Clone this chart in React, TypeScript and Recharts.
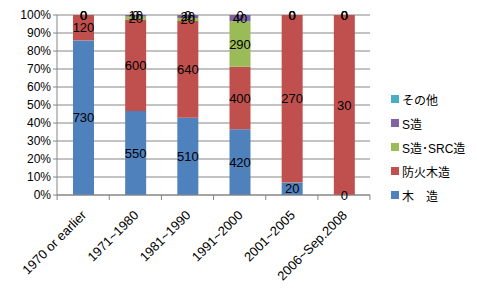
import { BarChart, Bar, XAxis, YAxis, CartesianGrid, LabelList } from 'recharts'

const periods = ['1970 or earlier', '1971~1980', '1981~1990', '1991~2000', '2001~2005', '2006~Sep.2008']
const wood = [730, 550, 510, 420, 20, 0]
const fireproofWood = [120, 600, 640, 400, 270, 30]
const steelSrc = [0, 20, 20, 290, 0, 0]
const steel = [0, 10, 20, 40, 0, 0]
const other = [0, 0, 0, 0, 0, 0]
const yTicks = [0, 0.1, 0.2, 0.3, 0.4, 0.5, 0.6, 0.7, 0.8, 0.9, 1]

const seriesList = [
  { key: 'wood', name: '木　造', color: '#4F81BD' },
  { key: 'fireproofWood', name: '防火木造', color: '#C0504D' },
  { key: 'steelSrc', name: 'S造･SRC造', color: '#9BBB59' },
  { key: 'steel', name: 'S造', color: '#8064A2' },
  { key: 'other', name: 'その他', color: '#4BACC6' },
]

const data = periods.map((period, i) => ({
  period,
  wood: wood[i],
  fireproofWood: fireproofWood[i],
  steelSrc: steelSrc[i],
  steel: steel[i],
  other: other[i],
}))

const FONT = '"Liberation Sans", "Noto Sans CJK JP", sans-serif'
const BAND = 52

function PeriodTick(props: any) {
  const { x, y, payload, index } = props
  const ax = x + 4
  const ay = y + 13
  return (
    <g>
      <line x1={x - BAND / 2} y1={y - 8} x2={x - BAND / 2} y2={y - 3} stroke="#868686" />
      {index === periods.length - 1 && (
        <line x1={x + BAND / 2} y1={y - 8} x2={x + BAND / 2} y2={y - 3} stroke="#868686" />
      )}
      <text
        x={ax}
        y={ay}
        transform={`rotate(-45, ${ax}, ${ay})`}
        textAnchor="end"
        fontSize={13}
        fontFamily={FONT}
        fill="#000"
      >
        {payload.value}
      </text>
    </g>
  )
}

function SideLegend() {
  const items = [...seriesList].reverse()
  return (
    <div
      style={{
        position: 'absolute',
        left: 391,
        top: 87,
        fontFamily: FONT,
        fontSize: 12,
        color: '#000',
      }}
    >
      {items.map((s) => (
        <div key={s.key} style={{ display: 'flex', alignItems: 'center', height: 24 }}>
          <span style={{ width: 8, height: 8, background: s.color, marginRight: 3 }} />
          <span>{s.name}</span>
        </div>
      ))}
    </div>
  )
}

export default function App() {
  return (
    <div style={{ position: 'fixed', left: 0, top: 0, width: 477, height: 294, background: '#fff' }}>
      <BarChart
        width={477}
        height={294}
        data={data}
        stackOffset="expand"
        barSize={21}
        margin={{ top: 15, right: 107, left: 0, bottom: 0 }}
      >
        <CartesianGrid horizontal vertical={false} stroke="#868686" />
        <XAxis
          dataKey="period"
          height={99}
          interval={0}
          tickLine={false}
          axisLine={{ stroke: '#868686' }}
          tick={<PeriodTick />}
        />
        <YAxis
          width={57}
          domain={[0, 1]}
          ticks={yTicks}
          interval={0}
          tickFormatter={(v: number) => `${Math.round(v * 100)}%`}
          tick={{ fontSize: 12, fill: '#000', fontFamily: FONT }}
          tickLine={{ stroke: '#868686' }}
          tickSize={4}
          axisLine={{ stroke: '#868686' }}
        />
        {seriesList.map((s) => (
          <Bar
            key={s.key}
            dataKey={s.key}
            name={s.name}
            stackId="a"
            fill={s.color}
            minPointSize={0.01}
            isAnimationActive={false}
          >
            <LabelList dataKey={s.key} position="center" fill="#000" fontSize={13} fontFamily={FONT} />
          </Bar>
        ))}
      </BarChart>
      <SideLegend />
    </div>
  )
}
